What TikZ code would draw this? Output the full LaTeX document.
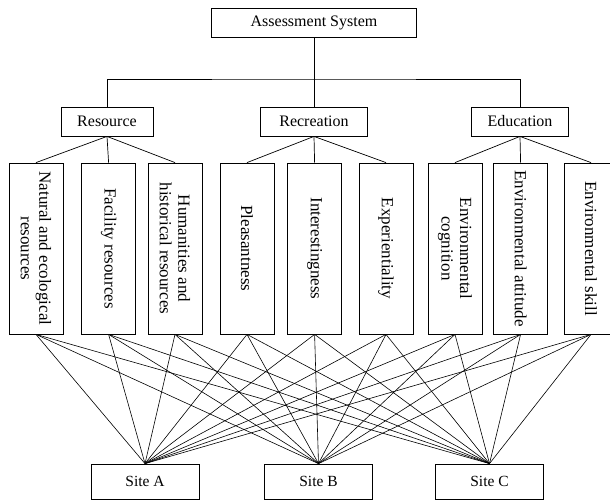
\documentclass[tikz,border=0pt]{standalone}
\usepackage{fontspec}
\setmainfont{Liberation Serif}
\usepackage{tikz}

\begin{document}
\begin{tikzpicture}[
    x=1pt, y=-1pt,
    headbox/.style={rectangle, draw=black, line width=0.8pt, minimum height=29pt, inner sep=0pt, font=\fontsize{16}{18}\selectfont},
    leafbox/.style={rectangle, draw=black, line width=0.8pt, rotate=-90, minimum width=171pt, minimum height=54pt, inner sep=0pt, align=center, font=\fontsize{17}{18.5}\selectfont},
    sitebox/.style={rectangle, draw=black, line width=0.8pt, minimum width=108pt, minimum height=35pt, inner sep=0pt, font=\fontsize{15.5}{18}\selectfont},
    conn/.style={draw=black, line width=0.7pt},
    web/.style={draw=black, line width=0.6pt}
]
\useasboundingbox (0,0) rectangle (610,501);

% goal
\node[headbox, minimum width=205pt] (sys) at (314, 22.5) {Assessment System};

% criteria
\node[headbox, minimum width=92pt] (res) at (107, 121.5) {Resource};
\node[headbox, minimum width=107pt] (rec) at (314, 121.5) {Recreation};
\node[headbox, minimum width=97pt] (edu) at (520, 121.5) {Education};

% indicators (rotated: west = top edge, east = bottom edge)
\node[leafbox] (nat) at (36, 248.5) {Natural and ecological\\resources};
\node[leafbox] (fac) at (108.6, 248.5) {Facility resources};
\node[leafbox] (hum) at (175, 248.5) {Humanities and\\historical resources};
\node[leafbox] (ple) at (247, 248.5) {Pleasantness};
\node[leafbox] (int) at (314.6, 248.5) {Interestingness};
\node[leafbox] (exp) at (386, 248.5) {Experientiality};
\node[leafbox] (cog) at (455, 248.5) {Environmental\\cognition};
\node[leafbox] (att) at (520.6, 248.5) {Environmental attitude};
\node[leafbox] (ski) at (591, 248.5) {Environmental skill};

% alternatives
\node[sitebox] (sA) at (145, 481.5) {Site A};
\node[sitebox] (sB) at (318.5, 481.5) {Site B};
\node[sitebox] (sC) at (489.5, 481.5) {Site C};

% goal to criteria
\coordinate (bus) at (314, 79);
\draw[conn] (sys.south) -- (rec.north);
\draw[conn] (res.north) |- (bus) -| (edu.north);

% criteria to indicators
\draw[conn] (res.south) -- (nat.west);
\draw[conn] (res.south) -- (fac.west);
\draw[conn] (res.south) -- (hum.west);
\draw[conn] (rec.south) -- (ple.west);
\draw[conn] (rec.south) -- (int.west);
\draw[conn] (rec.south) -- (exp.west);
\draw[conn] (edu.south) -- (cog.west);
\draw[conn] (edu.south) -- (att.west);
\draw[conn] (edu.south) -- (ski.west);

% indicators to sites
\draw[web] (nat.east) -- (sA.north);
\draw[web] (nat.east) -- (sB.north);
\draw[web] (nat.east) -- (sC.north);
\draw[web] (fac.east) -- (sA.north);
\draw[web] (fac.east) -- (sB.north);
\draw[web] (fac.east) -- (sC.north);
\draw[web] (hum.east) -- (sA.north);
\draw[web] (hum.east) -- (sB.north);
\draw[web] (hum.east) -- (sC.north);
\draw[web] (ple.east) -- (sA.north);
\draw[web] (ple.east) -- (sB.north);
\draw[web] (ple.east) -- (sC.north);
\draw[web] (int.east) -- (sA.north);
\draw[web] (int.east) -- (sB.north);
\draw[web] (int.east) -- (sC.north);
\draw[web] (exp.east) -- (sA.north);
\draw[web] (exp.east) -- (sB.north);
\draw[web] (exp.east) -- (sC.north);
\draw[web] (cog.east) -- (sA.north);
\draw[web] (cog.east) -- (sB.north);
\draw[web] (cog.east) -- (sC.north);
\draw[web] (att.east) -- (sA.north);
\draw[web] (att.east) -- (sB.north);
\draw[web] (att.east) -- (sC.north);
\draw[web] (ski.east) -- (sA.north);
\draw[web] (ski.east) -- (sB.north);
\draw[web] (ski.east) -- (sC.north);
\end{tikzpicture}
\end{document}
